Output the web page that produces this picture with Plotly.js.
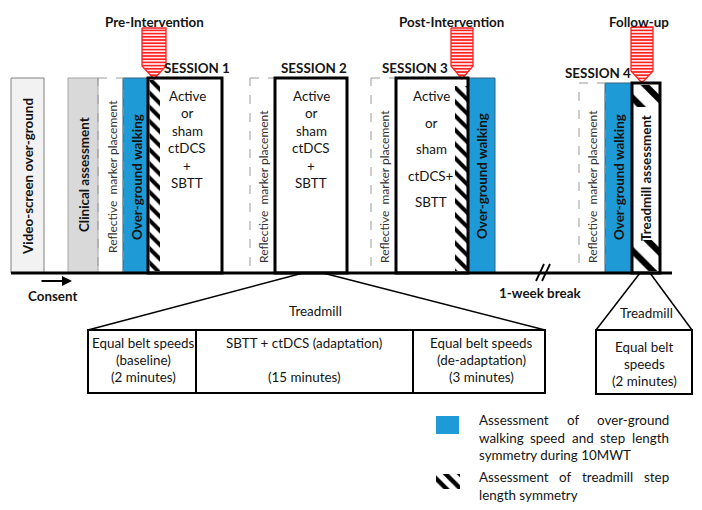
<!DOCTYPE html>
<html><head><meta charset="utf-8">
<script src="https://cdn.plot.ly/plotly-3.0.1.min.js"></script>
<style>html,body{margin:0;padding:0;background:#fff}</style>
</head><body><div id="chart" style="width:702px;height:510px"></div>
<script>
// ---------------- DATA (texts) ----------------
const timepoints = ["Pre-Intervention", "Post-Intervention", "Follow-up"];
const sessions = ["SESSION 1", "SESSION 2", "SESSION 3", "SESSION 4"];
const sessionTextA = ["Active", "or", "sham", "ctDCS", "+", "SBTT"];
const sessionTextB = ["Active", "or", "sham", "ctDCS+", "SBTT"];
const blockLabels = ["Video-screen over-ground", "Clinical assessment", "Reflective  marker placement", "Over-ground walking", "Treadmill assessment"];
const tableCells = [
  ["Equal belt speeds", "(baseline)", "(2 minutes)"],
  ["SBTT + ctDCS (adaptation)", "", "(15 minutes)"],
  ["Equal belt speeds", "(de-adaptation)", "(3 minutes)"]
];
const followCell = ["Equal belt", "speeds", "(2 minutes)"];
const otherLabels = ["Consent", "1-week break", "Treadmill"];
const legend1 = [["Assessment", "of", "over-ground"], ["walking", "speed", "and", "step", "length"], ["symmetry during 10MWT"]];
const legend2 = [["Assessment", "of", "treadmill", "step"], ["length symmetry"]];

// ---------------- GEOMETRY / STYLE ----------------
const FONT = "Lato, 'Open Sans', sans-serif";
const TXT = "#141414";
const FS = 13.4;
const BLUE = "#1e9bd7";
const BASE_Y = 273, TOP = 78, TOP4 = 83;

const shapes = [];
const ann = [];
const traces = [];

function rect(x0, x1, y0, y1, o) {
  shapes.push(Object.assign({type: "rect", xref: "x", yref: "y", x0, x1, y0, y1,
    line: {color: "black", width: 1}, fillcolor: "rgba(0,0,0,0)", layer: "above"}, o || {}));
}
function line(x0, y0, x1, y1, w, col) {
  shapes.push({type: "line", xref: "x", yref: "y", x0, y0, x1, y1, line: {color: col || "black", width: w || 1.5}, layer: "above"});
}
function text(t, x, y, o) {
  ann.push(Object.assign({text: t, x, y, xref: "x", yref: "y", showarrow: false, xanchor: "center", yanchor: "middle",
    font: {family: FONT, size: FS, color: TXT}}, o || {}));
}
function hatch(x0, x1, y0, y1, size, sol) {
  traces.push({type: "scatter", mode: "lines", x: [x0, x1, x1, x0, x0], y: [y0, y0, y1, y1, y0], fill: "toself",
    line: {width: 0, color: "rgba(0,0,0,0)"}, fillcolor: "white",
    fillpattern: {shape: "\\", fgcolor: "black", bgcolor: "white", size: size, solidity: sol}, hoverinfo: "skip"});
}
function redArrow(x0, x1, top, rb, tipX, tipY) {
  traces.push({type: "scatter", mode: "lines", x: [x0, x1, x1, tipX, x0, x0], y: [top, top, rb, tipY, rb, top], fill: "toself",
    line: {width: 1.3, color: "#ff2020"}, fillcolor: "white",
    fillpattern: {shape: "-", fgcolor: "#ff2020", bgcolor: "white", size: 3.2, solidity: 0.55}, hoverinfo: "skip"});
}
const small = {family: FONT, size: 12, color: "#333"};

// Left pre-session blocks
rect(11, 44, TOP, BASE_Y, {fillcolor: "#f2f2f2", line: {color: "#808080", width: 1}, layer: "below"});
rect(68, 98, TOP, BASE_Y, {fillcolor: "#d9d9d9", line: {color: "#a6a6a6", width: 1}, layer: "below"});
text("<b>" + blockLabels[0] + "</b>", 28, 177, {textangle: -90});
text("<b>" + blockLabels[1] + "</b>", 84, 175, {textangle: -90});

// Session 1
rect(98, 123, TOP, BASE_Y, {line: {color: "#9a9a9a", width: 1, dash: "dash"}});
rect(123, 148, TOP, BASE_Y, {fillcolor: BLUE, line: {color: "#35627f", width: 1}, layer: "below"});
hatch(149.5, 160, 80, 271, 10, 0.4);
rect(148, 222, TOP, BASE_Y, {line: {color: "black", width: 3}});
text(blockLabels[2], 112, 177, {textangle: -90, font: small});
text("<b>" + blockLabels[3] + "</b>", 137, 177, {textangle: -90});
sessionTextA.forEach((t, i) => text(t, 187, 96 + i * 17.4));

// Session 2
rect(250, 275, TOP, BASE_Y, {line: {color: "#9a9a9a", width: 1, dash: "dash"}});
rect(275, 347, TOP, BASE_Y, {line: {color: "black", width: 3}});
text(blockLabels[2], 263, 187, {textangle: -90, font: small});
sessionTextA.forEach((t, i) => text(t, 311, 96 + i * 17.4));

// Session 3
rect(371, 396, TOP, BASE_Y, {line: {color: "#9a9a9a", width: 1, dash: "dash"}});
hatch(455, 467, 86, 271, 10, 0.4);
rect(396, 468, TOP, BASE_Y, {line: {color: "black", width: 3}});
rect(468, 495, TOP, BASE_Y, {fillcolor: BLUE, line: {color: "#35627f", width: 1}, layer: "below"});
text(blockLabels[2], 384, 187, {textangle: -90, font: small});
text("<b>" + blockLabels[3] + "</b>", 482, 176, {textangle: -90});
sessionTextB.forEach((t, i) => text(t, 431, 96 + i * 26.5));

// Session 4
rect(579, 605, TOP4, BASE_Y, {line: {color: "#9a9a9a", width: 1, dash: "dash"}});
rect(605, 632, TOP4, BASE_Y, {fillcolor: BLUE, line: {color: "#35627f", width: 1}, layer: "below"});
hatch(633, 659, 85, 107, 18, 0.35);
hatch(633, 659, 240, 271, 18, 0.35);
rect(632, 660, TOP4, BASE_Y, {line: {color: "black", width: 3}});
text(blockLabels[2], 592, 187, {textangle: -90, font: small});
text("<b>" + blockLabels[3] + "</b>", 619, 177, {textangle: -90});
text("<b>" + blockLabels[4] + "</b>", 646, 178, {textangle: -90});

// Session titles & timepoints
const sessionPos = [[197, 68], [314, 68], [415, 68], [598, 73]];
sessions.forEach((s, i) => text("<b>" + s + "</b>", sessionPos[i][0], sessionPos[i][1]));
const tpPos = [[154, 22], [451, 22], [639, 22]];
timepoints.forEach((s, i) => text("<b>" + s + "</b>", tpPos[i][0], tpPos[i][1]));
redArrow(142, 166, 28, 66, 154, 79);
redArrow(451, 473, 28, 66, 462, 79);
redArrow(631, 653, 27, 71, 642, 83);

// Baseline and break
line(11, BASE_Y, 672, BASE_Y, 3);
line(536, 281, 544, 264, 1.8);
line(542, 281, 550, 264, 1.8);
text("<b>" + otherLabels[1] + "</b>", 540, 293);

// Consent
text("<b>" + otherLabels[0] + "</b>", 52, 296);
ann.push({x: 72, y: 281, ax: 40, ay: 281, xref: "x", yref: "y", axref: "x", ayref: "y", showarrow: true,
  arrowhead: 2, arrowsize: 1, arrowwidth: 2, arrowcolor: "black", text: ""});

// Treadmill breakdown (session 2)
line(303, BASE_Y, 88, 330, 1.5);
line(323, BASE_Y, 545, 330, 1.5);
rect(88, 545, 330, 393, {line: {color: "black", width: 2}});
line(196, 330, 196, 393, 2);
line(413, 330, 413, 393, 2);
text(otherLabels[2], 315, 311);
const colX = [143, 304, 481];
const rowY = [343, 360, 377];
tableCells.forEach((c, i) => c.forEach((t, j) => { if (t) text(t, colX[i], rowY[j]); }));

// Follow-up treadmill
line(640, BASE_Y, 596, 330, 1.5);
line(650, BASE_Y, 692, 330, 1.5);
rect(596, 692, 330, 394, {line: {color: "black", width: 2}});
text(otherLabels[2], 646, 313);
followCell.forEach((t, j) => text(t, 644, 347 + j * 17));

// Legend
rect(436, 459, 416, 434, {fillcolor: BLUE, line: {width: 0}, layer: "below"});
hatch(436, 460, 474, 489, 10, 0.45);
const ctx = document.createElement("canvas").getContext("2d");
ctx.font = FS + "px Lato";
function justify(words, y, last) {
  const L = 477, R = 667;
  if (words.length === 1 || last) { text(words.join(" "), L, y, {xanchor: "left"}); return; }
  const ws = words.map(w => ctx.measureText(w).width);
  const gap = (R - L - ws.reduce((a, b) => a + b, 0)) / (words.length - 1);
  let x = L;
  words.forEach((w, i) => { text(w, x, y, {xanchor: "left"}); x += ws[i] + gap; });
}
legend1.forEach((w, i) => justify(w, 420 + i * 17.5, i === legend1.length - 1));
legend2.forEach((w, i) => justify(w, 477 + i * 18, i === legend2.length - 1));

const layout = {
  width: 702, height: 510, margin: {l: 0, r: 0, t: 0, b: 0},
  paper_bgcolor: "white", plot_bgcolor: "white", showlegend: false, hovermode: false,
  xaxis: {range: [0, 702], visible: false, fixedrange: true},
  yaxis: {range: [510, 0], visible: false, fixedrange: true},
  shapes: shapes, annotations: ann
};
Plotly.newPlot("chart", traces, layout, {staticPlot: true, displayModeBar: false});
</script></body></html>
